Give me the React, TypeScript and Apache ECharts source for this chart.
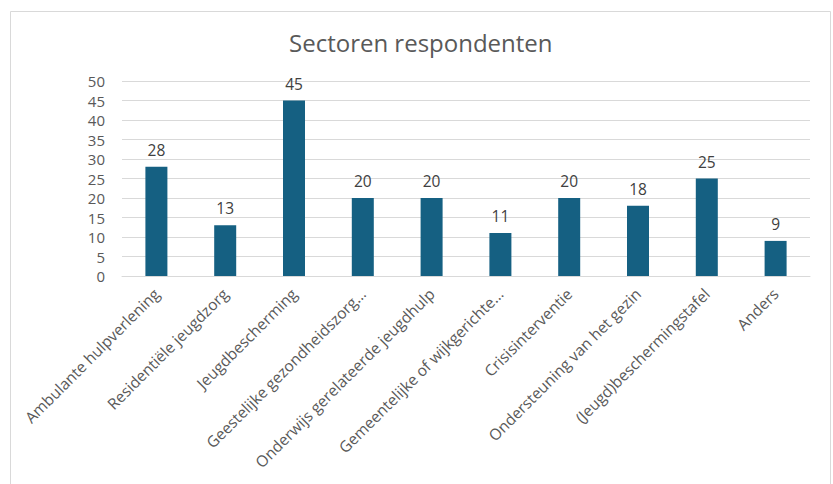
import React, { useEffect, useRef } from "react";
import * as echarts from "echarts";

const categories = [
  "Ambulante hulpverlening",
  "Residentiële jeugdzorg",
  "Jeugdbescherming",
  "Geestelijke gezondheidszorg…",
  "Onderwijs gerelateerde jeugdhulp",
  "Gemeentelijke of wijkgerichte…",
  "Crisisinterventie",
  "Ondersteuning van het gezin",
  "(Jeugd)beschermingstafel",
  "Anders",
];
const values = [28, 13, 45, 20, 20, 11, 20, 18, 25, 9];
const titleText = "Sectoren respondenten";

const FONT = "'Open Sans', sans-serif";

export default function App() {
  const ref = useRef<HTMLDivElement>(null);
  useEffect(() => {
    if (!ref.current) return;
    const chart = echarts.init(ref.current, undefined, { renderer: "svg" });
    chart.setOption({
      animation: false,
      backgroundColor: "#ffffff",
      textStyle: { fontFamily: FONT },
      title: {
        text: titleText,
        left: 284,
        top: 25,
        textStyle: { fontSize: 24, color: "#595959", fontWeight: "normal", fontFamily: FONT },
      },
      graphic: [
        {
          type: "rect",
          shape: { x: 10.5, y: 11.5, width: 820, height: 480 },
          style: { fill: "none", stroke: "#d9d9d9", lineWidth: 1 },
          silent: true,
        },
      ],
      grid: { left: 122, right: 23, top: 81, bottom: 208, containLabel: false },
      xAxis: {
        type: "category",
        data: categories,
        axisLine: { show: true, lineStyle: { color: "#d9d9d9", width: 1 } },
        axisTick: { show: false },
        axisLabel: {
          interval: 0,
          rotate: 45,
          fontSize: 15.5,
          color: "#595959",
          margin: 15,
          fontFamily: FONT,
        },
      },
      yAxis: {
        type: "value",
        min: 0,
        max: 50,
        interval: 5,
        axisLine: { show: false },
        axisTick: { show: false },
        axisLabel: { fontSize: 15, color: "#595959", margin: 17, fontFamily: FONT },
        splitLine: { lineStyle: { color: "#d9d9d9", width: 1 } },
      },
      series: [
        {
          type: "bar",
          data: values,
          barWidth: 22,
          itemStyle: { color: "#156082" },
          label: {
            show: true,
            position: "top",
            distance: 9,
            fontSize: 15.5,
            color: "#404040",
            fontFamily: FONT,
          },
        },
      ],
    });
    return () => chart.dispose();
  }, []);
  return (
    <div
      ref={ref}
      style={{ position: "absolute", left: 0, top: 0, width: 833, height: 484 }}
    />
  );
}
